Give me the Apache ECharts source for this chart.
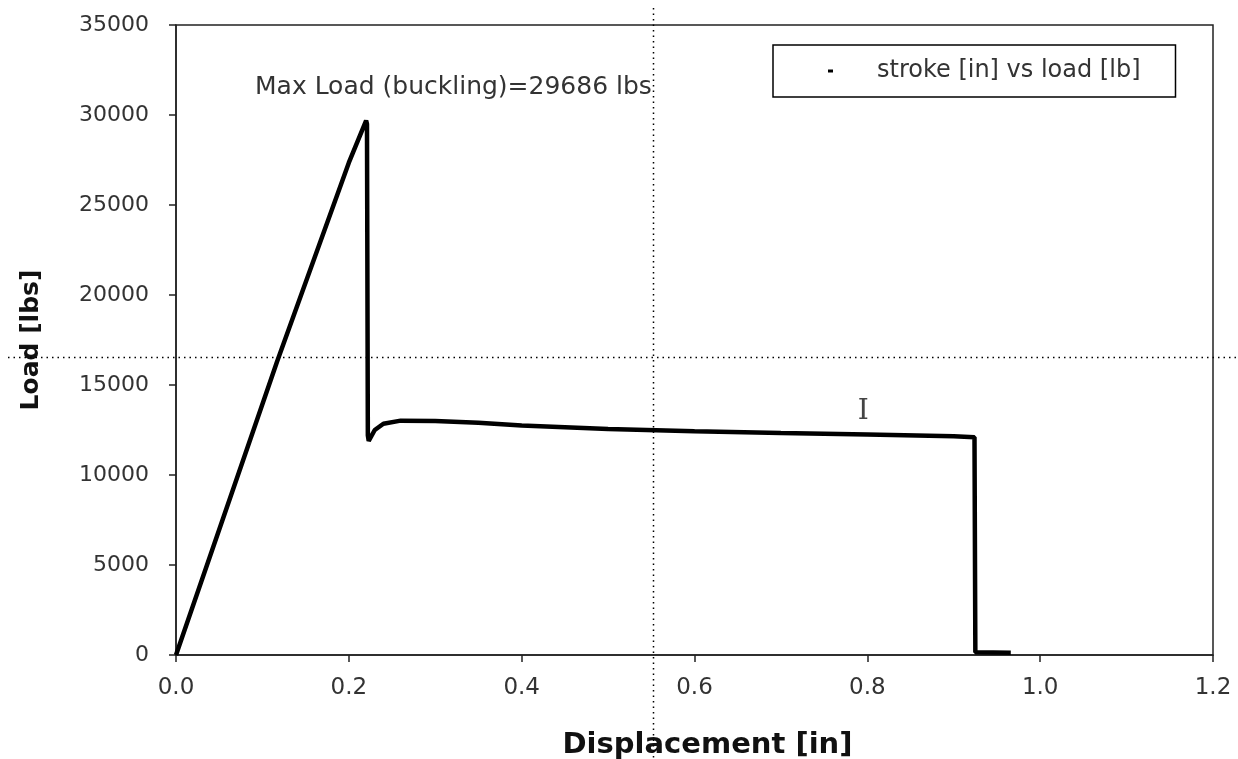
<!DOCTYPE html>
<html lang="en">
<head>
    <meta charset="UTF-8">
    <title>Load vs Displacement</title>
    <script src="https://cdn.jsdelivr.net/npm/echarts@6/dist/echarts.min.js"></script>
    <style>
        html, body {
            margin: 0;
            padding: 0;
            background: #fff;
        }
        #box {
            width: 1238px;
            height: 759px;
        }
    </style>
</head>
<body>
<div id="box"></div>
<script>
    // displacement [in] and load [lb]
    var dispX = [0, 0.117, 0.20, 0.22, 0.221,
        0.222, 0.223, 0.23, 0.24, 0.26, 0.30, 0.35, 0.40, 0.50, 0.60,
        0.70, 0.80, 0.90, 0.924, 0.925, 0.927, 0.966];
    var loadY = [0, 16300, 27350, 29686, 29500,
        12200, 11900, 12500, 12850, 13020, 13000, 12900, 12750, 12550, 12430,
        12330, 12250, 12150, 12100, 150, 130, 130];

    var xTicks = [0, 0.2, 0.4, 0.6, 0.8, 1.0, 1.2];
    var yTicks = [0, 5000, 10000, 15000, 20000, 25000, 30000, 35000];
    var seriesName = 'stroke [in] vs load [lb]';
    var peakText = 'Max Load (buckling)=29686 lbs';
    // crosshair left on the screenshot
    var cursorX = 0.552;
    var cursorY = 16530;

    var points = dispX.map(function (x, i) { return [x, loadY[i]]; });
    var font = 'DejaVu Sans';

    var myChart = echarts.init(document.getElementById('box'));
    var option = {
        animation: false,
        backgroundColor: '#fff',
        title: {
            text: peakText,
            left: 250,
            top: 70,
            textStyle: {
                fontFamily: font,
                fontSize: 25,
                fontWeight: 'normal',
                color: '#333'
            }
        },
        legend: {
            data: [seriesName],
            left: 773,
            top: 45,
            padding: [14, 35, 14, 55],
            borderColor: '#000',
            borderWidth: 1.5,
            icon: 'rect',
            itemWidth: 5,
            itemHeight: 3,
            itemStyle: {color: '#000'},
            textStyle: {
                fontFamily: font,
                fontSize: 24,
                color: '#333',
                padding: [0, 0, 0, 39]
            }
        },
        grid: {
            left: 176,
            right: 25,
            top: 25,
            bottom: 104,
            outerBoundsMode: 'none',
            show: true,
            borderColor: '#222',
            borderWidth: 1.5
        },
        xAxis: {
            type: 'value',
            min: xTicks[0],
            max: xTicks[xTicks.length - 1],
            interval: 0.2,
            name: 'Displacement [in]',
            nameLocation: 'middle',
            nameGap: 76,
            nameTextStyle: {
                fontFamily: font,
                fontSize: 29,
                fontWeight: 'bold',
                color: '#111',
                padding: [0, 0, 0, 26]
            },
            axisLine: {lineStyle: {color: '#222', width: 1.5}},
            axisTick: {show: true, length: 7, lineStyle: {color: '#222', width: 1.5}},
            axisLabel: {
                margin: 22,
                fontFamily: font,
                fontSize: 23,
                color: '#333',
                formatter: function (v) { return v.toFixed(1); }
            },
            splitLine: {show: false}
        },
        yAxis: {
            type: 'value',
            min: yTicks[0],
            max: yTicks[yTicks.length - 1],
            interval: 5000,
            name: 'Load [lbs]',
            nameLocation: 'middle',
            nameGap: 132,
            nameTextStyle: {
                fontFamily: font,
                fontSize: 25,
                fontWeight: 'bold',
                color: '#111'
            },
            axisLine: {lineStyle: {color: '#222', width: 1.5}},
            axisTick: {show: true, length: 7, lineStyle: {color: '#222', width: 1.5}},
            axisLabel: {
                margin: 27,
                fontFamily: font,
                fontSize: 22,
                color: '#333',
                formatter: function (v) { return String(v); }
            },
            splitLine: {show: false}
        },
        series: [
            {
                name: seriesName,
                type: 'line',
                data: points,
                showSymbol: false,
                smooth: false,
                lineStyle: {color: '#000', width: 4.5},
                itemStyle: {color: '#000'}
            }
        ]
    };
    myChart.setOption(option);

    // dotted crosshair + I-beam cursor, placed through the axes
    var cp = myChart.convertToPixel({gridIndex: 0}, [cursorX, cursorY]);
    var beam = myChart.convertToPixel({gridIndex: 0}, [0.789, 14300]);
    myChart.setOption({
        graphic: [
            {
                type: 'line',
                shape: {x1: Math.round(cp[0]) + 0.5, y1: 8, x2: Math.round(cp[0]) + 0.5, y2: 759},
                style: {stroke: '#000', lineWidth: 1.5, lineDash: [1.5, 4]},
                z: 10
            },
            {
                type: 'line',
                shape: {x1: 8, y1: Math.round(cp[1]) + 0.5, x2: 1238, y2: Math.round(cp[1]) + 0.5},
                style: {stroke: '#000', lineWidth: 1.5, lineDash: [1.5, 4]},
                z: 10
            },
            {
                type: 'text',
                x: beam[0],
                y: beam[1],
                style: {
                    text: 'I',
                    font: '28px "DejaVu Serif"',
                    fill: '#444'
                },
                z: 10
            }
        ]
    });
    window.addEventListener('resize', myChart.resize);
</script>
</body>
</html>
